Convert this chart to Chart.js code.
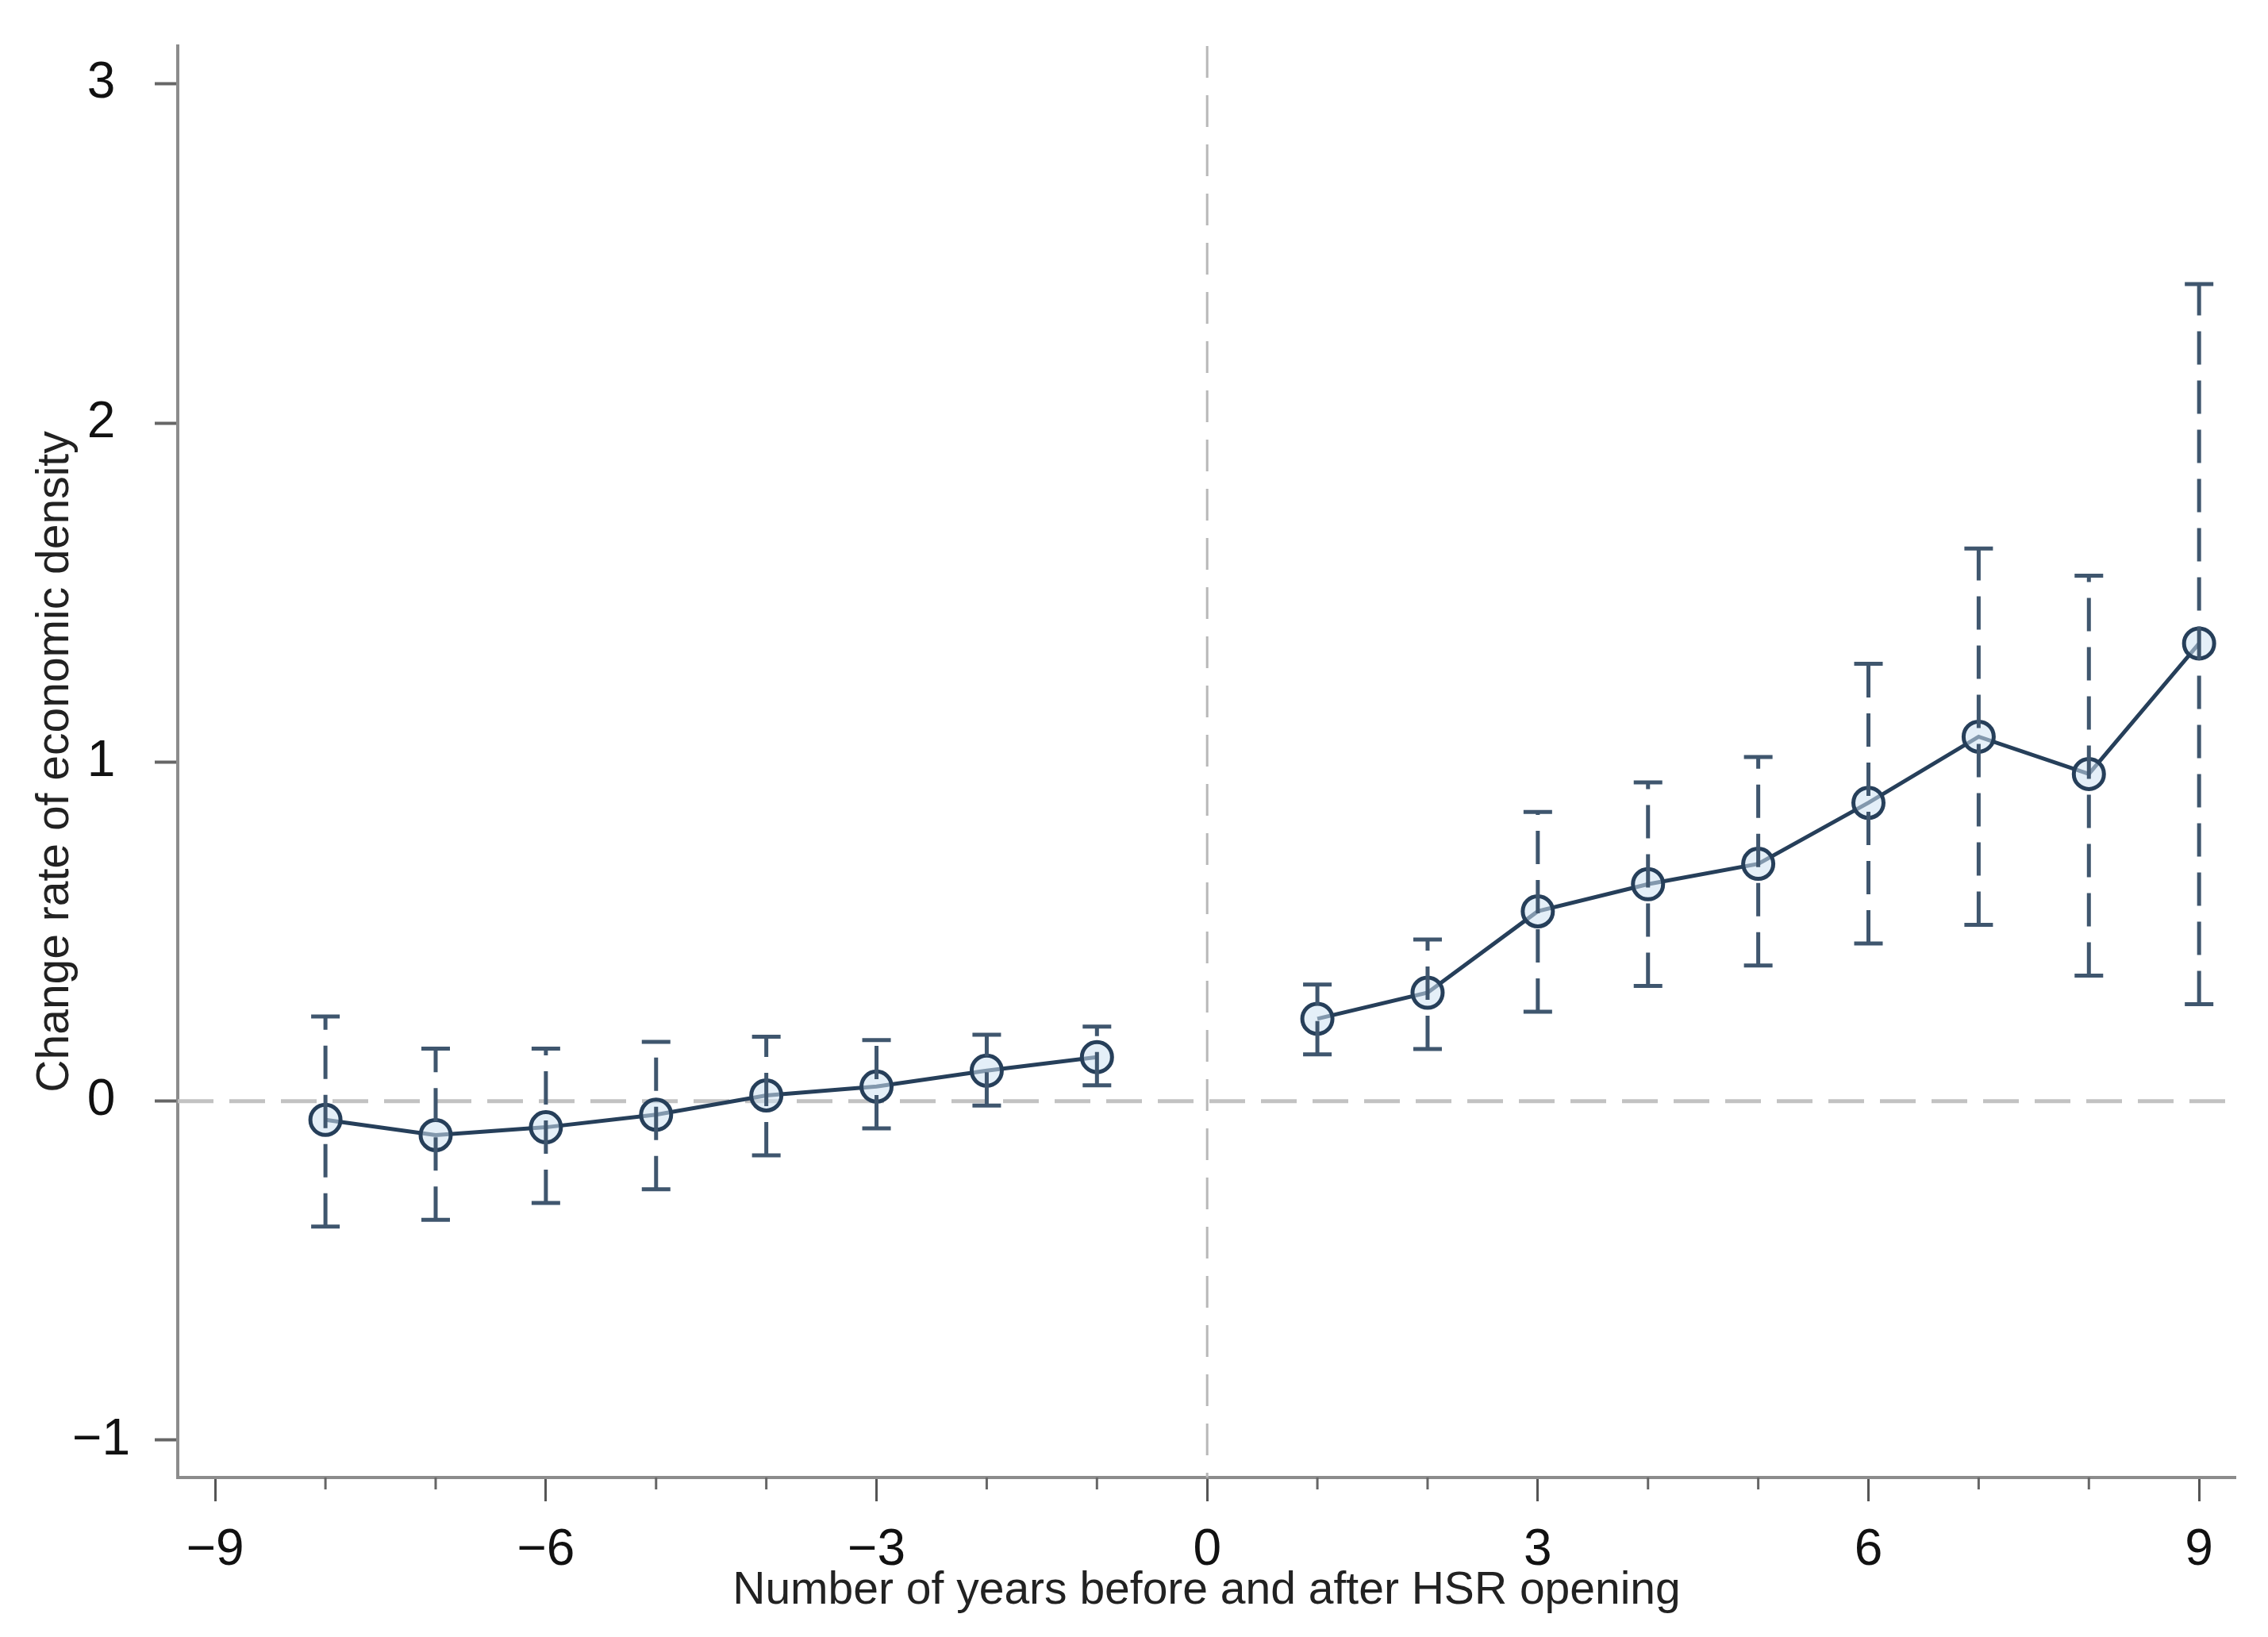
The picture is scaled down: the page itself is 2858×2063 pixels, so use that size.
<!DOCTYPE html>
<html>
<head>
<meta charset="utf-8">
<script src="https://cdn.jsdelivr.net/npm/chart.js@4.4.1/dist/chart.umd.min.js"></script>
<style>
  html, body { margin: 0; padding: 0; background: #fff; }
  #wrap { width: 2858px; height: 2063px; }
</style>
</head>
<body>
<div id="wrap"><canvas id="chart-event"></canvas></div>
<script>
// years relative to HSR opening (no estimate at 0)
const years = [-8, -7, -6, -5, -4, -3, -2, -1, 1, 2, 3, 4, 5, 6, 7, 8, 9];
const coef  = [-0.055, -0.10, -0.077, -0.04, 0.017, 0.043, 0.09, 0.13, 0.243, 0.32, 0.56, 0.64, 0.70, 0.88, 1.075, 0.965, 1.35];
const upper = [0.25, 0.155, 0.155, 0.175, 0.19, 0.18, 0.196, 0.22, 0.344, 0.477, 0.853, 0.94, 1.015, 1.29, 1.63, 1.55, 2.41];
const lower = [-0.37, -0.35, -0.30, -0.26, -0.16, -0.08, -0.013, 0.047, 0.138, 0.154, 0.264, 0.34, 0.40, 0.465, 0.52, 0.37, 0.286];

const xTicks = [-9, -6, -3, 0, 3, 6, 9];
const yTicks = [-1, 0, 1, 2, 3];

const minus = v => (v < 0 ? '\u2212' + Math.abs(v) : String(v));

const points = years.map((x, i) => ({ x: x, y: coef[i] }));
const pre = points.filter(p => p.x < 0);
const post = points.filter(p => p.x > 0);

const navy = '#263f5a';
const barColor = '#3f566e';

const refLines = {
    id: 'refLines',
    beforeDatasetsDraw(chart) {
        const { ctx, chartArea: a, scales: { x, y } } = chart;
        ctx.save();
        ctx.strokeStyle = '#c2c2c2';
        ctx.lineWidth = 5;
        ctx.setLineDash([45, 20]);
        const y0 = y.getPixelForValue(0);
        ctx.beginPath();
        ctx.moveTo(a.left, y0);
        ctx.lineTo(a.right, y0);
        ctx.stroke();
        ctx.strokeStyle = '#b8b8b8';
        ctx.lineWidth = 3;
        ctx.setLineDash([40, 22]);
        const x0 = x.getPixelForValue(0);
        ctx.beginPath();
        ctx.moveTo(x0, a.top);
        ctx.lineTo(x0, a.bottom);
        ctx.stroke();
        ctx.restore();
    }
};

const errorBars = {
    id: 'errorBars',
    afterDatasetsDraw(chart) {
        const { ctx, scales: { x, y } } = chart;
        ctx.save();
        ctx.strokeStyle = barColor;
        years.forEach((yr, i) => {
            const px = x.getPixelForValue(yr);
            const top = y.getPixelForValue(upper[i]);
            const bot = y.getPixelForValue(lower[i]);
            ctx.lineWidth = 5;
            ctx.setLineDash([42, 20]);
            ctx.beginPath();
            ctx.moveTo(px, bot);
            ctx.lineTo(px, top);
            ctx.stroke();
            ctx.setLineDash([]);
            ctx.lineWidth = 5;
            ctx.beginPath();
            ctx.moveTo(px - 18, top);
            ctx.lineTo(px + 18, top);
            ctx.moveTo(px - 18, bot);
            ctx.lineTo(px + 18, bot);
            ctx.stroke();
        });
        ctx.restore();
    }
};

const minorTicks = {
    id: 'minorTicks',
    afterDraw(chart) {
        const { ctx, chartArea: a, scales: { x } } = chart;
        ctx.save();
        ctx.strokeStyle = '#666';
        ctx.lineWidth = 3;
        x.ticks.forEach(t => {
            if (t.value % 3 === 0) return;
            const px = x.getPixelForValue(t.value);
            ctx.beginPath();
            ctx.moveTo(px, a.bottom);
            ctx.lineTo(px, a.bottom + 15);
            ctx.stroke();
        });
        ctx.restore();
    }
};

const lineStyle = {
    showLine: true,
    borderColor: navy,
    borderWidth: 5,
    pointRadius: 19,
    pointBorderWidth: 5,
    pointBorderColor: navy,
    pointBackgroundColor: 'rgba(205,225,242,0.55)',
    tension: 0
};

new Chart(document.getElementById('chart-event'), {
    type: 'scatter',
    data: {
        datasets: [
            Object.assign({ label: 'pre', data: pre }, lineStyle),
            Object.assign({ label: 'post', data: post }, lineStyle)
        ]
    },
    options: {
        responsive: true,
        maintainAspectRatio: false,
        devicePixelRatio: 1,
        animation: false,
        events: [],
        layout: { padding: { top: 58, right: 41, left: 8, bottom: 0 } },
        plugins: { legend: { display: false }, tooltip: { enabled: false } },
        scales: {
            x: {
                type: 'linear',
                min: -9.34,
                max: 9.33,
                afterFit: s => { s.height = 201; s.paddingLeft = 0; s.paddingRight = 0; },
                border: { color: '#8c8c8c', width: 4 },
                grid: {
                    drawOnChartArea: false,
                    tickLength: 30,
                    tickWidth: 3,
                    tickColor: c => (c.tick && xTicks.includes(c.tick.value) ? '#555' : 'rgba(0,0,0,0)')
                },
                ticks: {
                    stepSize: 1,
                    includeBounds: false,
                    autoSkip: false,
                    maxRotation: 0,
                    padding: 24,
                    color: '#111',
                    font: { family: 'Liberation Sans', size: 64 },
                    callback: v => (xTicks.includes(v) ? minus(v) : '')
                },
                title: {
                    display: true,
                    text: 'Number of years before and after HSR opening',
                    color: '#222',
                    font: { family: 'Liberation Sans', size: 57 },
                    padding: { top: 0, bottom: 24 }
                }
            },
            y: {
                min: -1.11,
                max: 3.112,
                afterFit: s => { s.width = 216; s.paddingTop = 0; s.paddingBottom = 0; },
                border: { color: '#8c8c8c', width: 4 },
                grid: {
                    drawOnChartArea: false,
                    tickLength: 29,
                    tickWidth: 4,
                    tickColor: '#666'
                },
                ticks: {
                    stepSize: 1,
                    includeBounds: false,
                    crossAlign: 'center',
                    padding: 31,
                    color: '#111',
                    font: { family: 'Liberation Sans', size: 64 },
                    callback: v => (yTicks.includes(v) ? minus(v) : '')
                },
                title: {
                    display: true,
                    text: 'Change rate of economic density',
                    color: '#222',
                    font: { family: 'Liberation Sans', size: 57 },
                    padding: { top: 28, bottom: 0 }
                }
            }
        }
    },
    plugins: [refLines, errorBars, minorTicks]
});
</script>
</body>
</html>
